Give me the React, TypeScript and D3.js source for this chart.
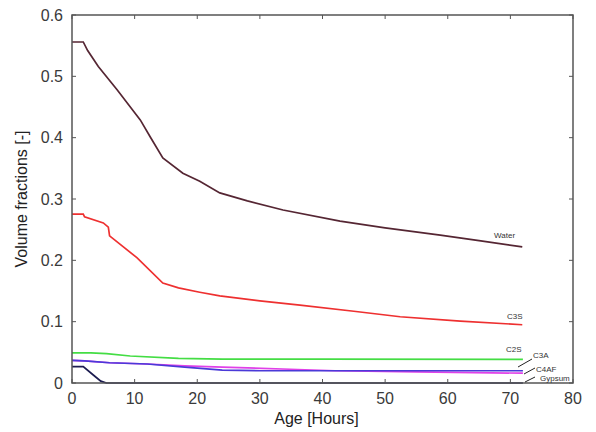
import React from "react";
import * as d3 from "d3";

const waterX = [0, 1.8, 2.5, 4.2, 7.2, 10.9, 12.5, 14.5, 17.7, 20.4, 23.6, 28, 33.7, 42.8, 50, 58.8, 65, 71.9];
const waterY = [0.556, 0.556, 0.542, 0.516, 0.478, 0.429, 0.401, 0.367, 0.342, 0.329, 0.31, 0.297, 0.282, 0.264, 0.253, 0.241, 0.232, 0.222];

const c3sX = [0, 1.8, 2, 5, 5.8, 6, 10.4, 14.5, 17, 20.4, 23.6, 30, 36.4, 45, 52.4, 62, 71.9];
const c3sY = [0.2755, 0.2755, 0.271, 0.261, 0.254, 0.24, 0.204, 0.163, 0.155, 0.148, 0.142, 0.134, 0.127, 0.117, 0.108, 0.101, 0.095];

const c2sX = [0, 3, 5.5, 9.3, 17, 24, 40, 72];
const c2sY = [0.049, 0.049, 0.048, 0.044, 0.04, 0.039, 0.039, 0.0386];

const c3aX = [0, 2, 6, 12, 18, 24, 30, 50, 72];
const c3aY = [0.037, 0.036, 0.033, 0.031, 0.026, 0.021, 0.02, 0.02, 0.02];

const c4afX = [0, 2, 6, 12, 18, 24, 36, 42, 55, 72];
const c4afY = [0.037, 0.036, 0.033, 0.031, 0.028, 0.026, 0.022, 0.02, 0.018, 0.016];

const gypX = [0, 1.8, 3.4, 4.6, 5.5, 72];
const gypY = [0.0266, 0.0266, 0.013, 0.003, 0, 0];

const xTicks = [0, 10, 20, 30, 40, 50, 60, 70, 80];
const yTicks = [0, 0.1, 0.2, 0.3, 0.4, 0.5, 0.6];
const yTickLabels = ["0", "0.1", "0.2", "0.3", "0.4", "0.5", "0.6"];

const series = [
  { name: "Gypsum", xs: gypX, ys: gypY, color: "#1c1c50" },
  { name: "C4AF", xs: c4afX, ys: c4afY, color: "#e040e8" },
  { name: "C3A", xs: c3aX, ys: c3aY, color: "#4a3ad8" },
  { name: "C2S", xs: c2sX, ys: c2sY, color: "#44dd44" },
  { name: "C3S", xs: c3sX, ys: c3sY, color: "#ee3030" },
  { name: "Water", xs: waterX, ys: waterY, color: "#552633" },
];

export default function App() {
  const W = 596, H = 432;
  const x = d3.scaleLinear().domain([0, 80]).range([72, 573]);
  const y = d3.scaleLinear().domain([0, 0.6]).range([383, 15]);
  const line = d3.line<[number, number]>().x(d => x(d[0])).y(d => y(d[1]));
  const axisColor = "#555";
  const font = "Arial, 'Liberation Sans', sans-serif";
  return (
    <svg width={W} height={H} style={{ position: "absolute", left: 0, top: 0 }}>
      <rect width={W} height={H} fill="#fff" />
      {series.map(s => (
        <path key={s.name} d={line(s.xs.map((v, i) => [v, s.ys[i]] as [number, number])) || ""}
          fill="none" stroke={s.color} strokeWidth={1.7} />
      ))}
      <rect x={x(0)} y={y(0.6)} width={x(80) - x(0)} height={y(0) - y(0.6)} fill="none" stroke={axisColor} strokeWidth={1.5} />
      {xTicks.map(t => (
        <g key={"x" + t}>
          <line x1={x(t)} x2={x(t)} y1={y(0)} y2={y(0) - 4} stroke={axisColor} />
          <line x1={x(t)} x2={x(t)} y1={y(0.6)} y2={y(0.6) + 4} stroke={axisColor} />
          <text x={x(t)} y={404} textAnchor="middle" fontSize={16} fill="#3a3a3a" fontFamily={font}>{t}</text>
        </g>
      ))}
      {yTicks.map((t, i) => (
        <g key={"y" + t}>
          <line x1={x(0)} x2={x(0) + 4} y1={y(t)} y2={y(t)} stroke={axisColor} />
          <line x1={x(80)} x2={x(80) - 4} y1={y(t)} y2={y(t)} stroke={axisColor} />
          <text x={63} y={y(t) + 5.5} textAnchor="end" fontSize={16} fill="#3a3a3a" fontFamily={font}>{yTickLabels[i]}</text>
        </g>
      ))}
      <text x={x(40) - 6} y={424} textAnchor="middle" fontSize={16} fill="#222" fontFamily={font}>Age [Hours]</text>
      <text transform={`translate(27,${y(0.3)}) rotate(-90)`} textAnchor="middle" fontSize={16} fill="#222" fontFamily={font}>Volume fractions [-]</text>
      <g fontSize={8} fill="#333" fontFamily={font}>
        <text x={494} y={238}>Water</text>
        <text x={507} y={319}>C3S</text>
        <text x={506} y={352}>C2S</text>
        <text x={533} y={358}>C3A</text>
        <text x={536} y={372}>C4AF</text>
        <text x={540} y={381}>Gypsum</text>
      </g>
      <g stroke="#222" strokeWidth={1}>
        <line x1={518} y1={367} x2={532} y2={359} />
        <line x1={524} y1={374} x2={535} y2={368} />
        <line x1={525} y1={382} x2={535} y2={377} />
      </g>
    </svg>
  );
}
